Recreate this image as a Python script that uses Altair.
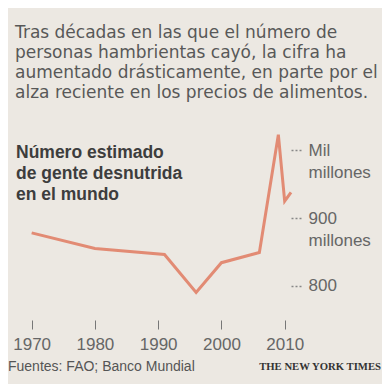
import altair as alt
import pandas as pd

# ---- data ----
years = [1970, 1980, 1991, 1996, 2000, 2006, 2009, 2010, 2011]
millions = [878, 855, 846, 790, 834, 849, 1023, 925, 938]

x_ticks = [1970, 1980, 1990, 2000, 2010]
y_ticks = [800, 900, 1000]
y_tick_labels = {1000: ["Mil", "millones"], 900: ["900", "millones"], 800: ["800"]}

title_lines = [
    "Tras décadas en las que el número de",
    "personas hambrientas cayó, la cifra ha",
    "aumentado drásticamente, en parte por el",
    "alza reciente en los precios de alimentos.",
]
subtitle_lines = ["Número estimado", "de gente desnutrida", "en el mundo"]
source_text = "Fuentes: FAO; Banco Mundial"
credit_text = "THE NEW YORK TIMES"

# ---- layout ----
PAD_L, PAD_T, W, H = 11, 122, 272, 176
CANVAS_W, CANVAS_H = 374, 376
PAD_R = CANVAS_W - PAD_L - W
PAD_B = CANVAS_H - PAD_T - H
BG = "#ece8e2"
LINE = "#e28b74"

df = pd.DataFrame({"year": years, "value": millions})
one = pd.DataFrame({"k": [0]})


def expr_label(d):
    parts = []
    for v, lines in d.items():
        arr = "[" + ",".join("'" + s + "'" for s in lines) + "]"
        parts.append((v, arr))
    e = parts[-1][1]
    for v, arr in reversed(parts[:-1]):
        e = f"datum.value == {v} ? {arr} : ({e})"
    return e


line = alt.Chart(df).mark_line(color=LINE, strokeWidth=3, strokeJoin="miter", clip=False).encode(
    x=alt.X(
        "year:Q",
        scale=alt.Scale(domain=[1968, 2011], nice=False, zero=False),
        axis=alt.Axis(
            values=x_ticks, format="d", title=None, grid=False, domain=False,
            orient="bottom", offset=14, tickSize=9, tickColor="#777", tickWidth=1,
            labelFont="Liberation Sans", labelFontSize=17, labelColor="#666",
            labelBaseline="alphabetic", labelPadding=20, labelFlush=False,
        ),
    ),
    y=alt.Y(
        "value:Q",
        scale=alt.Scale(domain=[770, 1030], nice=False, zero=False),
        axis=alt.Axis(
            values=y_ticks, title=None, grid=False, domain=False, orient="right",
            tickSize=10, tickDash=[2, 2], tickWidth=1.5, tickColor="#888",
            labelFont="Liberation Sans", labelFontSize=17, labelColor="#666",
            labelBaseline="alphabetic", labelOffset=5, labelPadding=7,
            labelLineHeight=22, labelOverlap=False, labelFlush=False,
            labelExpr=expr_label(y_tick_labels),
        ),
    ),
)

title = alt.Chart(one).mark_text(
    align="left", baseline="alphabetic", font="DejaVu Sans", fontSize=17,
    lineHeight=20, color="#585858",
).encode(x=alt.value(-4), y=alt.value(-92), text=alt.value(title_lines))

subtitle = alt.Chart(one).mark_text(
    align="left", baseline="alphabetic", font="Liberation Sans", fontSize=17.5,
    fontWeight="bold", lineHeight=21, color="#3d3d3d",
).encode(x=alt.value(-3), y=alt.value(28), text=alt.value(subtitle_lines))

source = alt.Chart(one).mark_text(
    align="left", baseline="alphabetic", font="Liberation Sans", fontSize=14,
    color="#555555",
).encode(x=alt.value(-11), y=alt.value(241), text=alt.value(source_text))

credit = alt.Chart(one).mark_text(
    align="right", baseline="alphabetic", font="Liberation Serif", fontSize=10.7,
    fontWeight="bold", color="#333333",
).encode(x=alt.value(362), y=alt.value(240), text=alt.value(credit_text))

chart = alt.layer(line, title, subtitle, source, credit).properties(
    width=W, height=H, background=BG,
    autosize=alt.AutoSizeParams(type="none"),
    padding={"left": PAD_L, "top": PAD_T, "right": PAD_R, "bottom": PAD_B},
).configure_view(stroke=None)

chart.save("out.html", embed_options={"renderer": "svg", "actions": False})
